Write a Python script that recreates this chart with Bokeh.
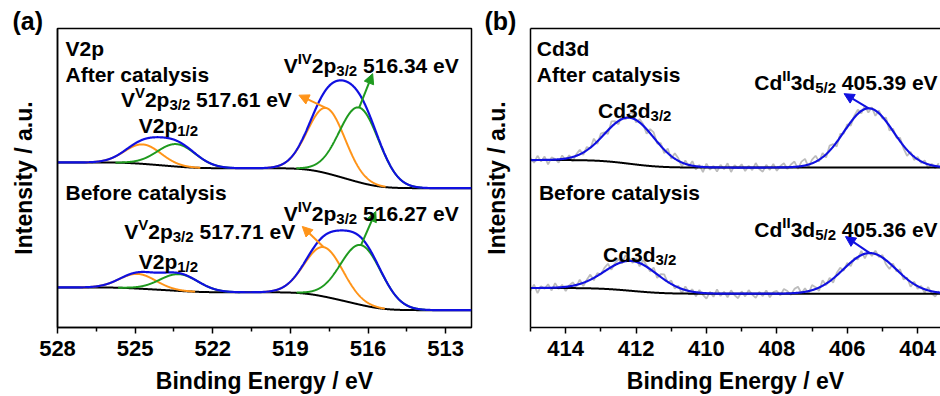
import numpy as np
from bokeh.plotting import figure
from bokeh.layouts import row
from bokeh.models import Range1d, FixedTicker, Label, Arrow, NormalHead, LinearAxis
from bokeh.embed import file_html
from bokeh.resources import INLINE

# ---------------- V2p fit parameters (binding energy in eV, height in a.u.) ----------------
# component order: V(V) 2p3/2, V(IV) 2p3/2, V(V) 2p1/2, V(IV) 2p1/2
v_after_center = [517.61, 516.34, 524.70, 523.40]
v_after_height = [21.8, 25.0, 6.5, 7.5]
v_after_fwhm = [1.7, 1.8, 1.65, 1.75]
v_after_bg = [46.6, 55.2]          # background level at low / high binding energy

v_before_center = [517.71, 516.27, 524.90, 523.30]
v_before_height = [16.5, 20.0, 4.9, 5.6]
v_before_fwhm = [1.75, 1.85, 1.65, 1.75]
v_before_bg = [5.8, 13.4]

v_ticks = [528, 525, 522, 519, 516, 513]
v_minor = [526.5, 523.5, 520.5, 517.5, 514.5]

# ---------------- Cd3d fit parameters ----------------
# component order: Cd 3d3/2, Cd(II) 3d5/2
cd_after_center = [412.18, 405.39]
cd_after_height = [15.4, 19.8]
cd_after_fwhm = [1.65, 1.65]
cd_after_bg = [53.5, 56.0]

cd_before_center = [412.13, 405.36]
cd_before_height = [10.0, 13.6]
cd_before_fwhm = [1.75, 1.75]
cd_before_bg = [11.3, 13.2]

cd_ticks = [414, 412, 410, 408, 406, 404]
cd_minor = [415, 413, 411, 409, 407, 405]

# raw-data deviations from the fitted envelope, 415 -> 403.4 eV
cd_after_noise = [
    0.7, -0.9, 1.4, -0.5, 1.1, -1.5, 0.8, 0.2, -1.1, 1.2,
    -0.6, 0.9, -1.4, 0.5, 1.5, -0.8, 1.1, -0.3, 2.0, -0.9,
    1.4, 0.6, -1.2, 1.8, 0.8, -1.1, 1.5, -0.5, 1.2, 2.1,
    -0.8, 1.1, 0.5, -1.5, 1.4, 1.7, -0.6, 0.9, -1.2, 1.5,
    -0.9, 1.8, 0.8, -1.4, 1.1, -0.5, 1.5, -1.1, 0.6, -1.7,
    1.2, -0.8, 0.5, -1.4, 0.9, -0.6, 1.4, -1.5, 0.8, -0.3,
    1.1, -1.2, 0.6, -0.9, 1.5, -0.5, -1.4, 0.9, -0.8, 1.2,
    -1.1, 0.5, 1.4, -0.6, 0.9, 1.8, -0.8, 1.5, 2.2, -0.9,
    1.2, 2.0, -0.6, 1.4, -1.1, 1.7, 0.8, -1.5, 1.1, -0.5,
    0.9, -1.2, 0.6, 1.4, -0.8, 1.1, -1.4, 0.5, -1.8, 0.9,
    -0.6, 1.2, -1.5, 0.8, -0.5, 1.1, -0.9, -2.0, 0.6, -1.1,
    0.8, -0.6, 0.9, -1.4, 0.5, -0.8, 1.1]
cd_before_noise = [
    -0.8, 1.1, -1.7, 0.6, -0.3, 1.2, -0.9, 1.5, -0.5, 0.8,
    -1.4, 0.3, 1.1, -0.6, 1.4, -1.1, 0.5, 1.7, -0.8, 0.9,
    -0.3, 1.2, 1.8, -0.9, 0.6, 1.4, -0.5, 2.0, 0.8, -0.6,
    1.2, -1.1, 1.5, 0.5, -0.8, 1.4, -1.2, 0.9, 1.7, -0.3,
    1.1, -0.9, 0.6, -1.5, 1.2, -0.5, 0.8, -1.4, 0.9, -0.6,
    -1.8, 0.5, -1.1, 1.4, -0.8, 0.6, -1.2, 1.1, -0.5, -1.5,
    0.8, -0.9, 1.2, -0.3, -1.4, 0.6, -0.8, 1.1, -1.2, 0.5,
    0.9, -0.6, 1.5, 0.8, -0.5, 1.4, 2.0, -0.3, 1.2, -0.9,
    1.7, 0.6, -1.1, 1.8, -0.5, 1.1, -1.4, 0.8, 1.5, -0.6,
    0.9, -1.2, 0.5, -0.8, 1.4, -1.5, 0.6, -0.9, 1.1, -0.5,
    0.8, -1.4, -2.0, 0.9, -0.6, 1.2, -1.1, 0.5, -1.7, 0.8,
    -0.9, 0.6, -1.2, 1.1, -0.8, -1.5, 0.5]

BLUE = "#1010e0"
ORANGE = "#ff9419"
GREEN = "#1f9a1f"
GRAY = "#bdbdbd"
FONT = "Liberation Sans"

# Arial/Liberation Sans Bold advance widths (1/1000 em) for placing text runs
ADV = {" ": 278, "(": 333, ")": 333, ".": 278, "/": 278, "A": 722, "C": 722,
       "E": 667, "I": 278, "V": 667, "a": 556, "c": 556, "d": 611, "e": 556,
       "f": 333, "g": 611, "i": 278, "l": 278, "n": 611, "p": 611, "r": 389,
       "s": 556, "t": 333, "u": 611, "y": 556, "B": 722}


def text_width(s, size):
    return sum(ADV.get(ch, 556) for ch in s) * size / 1000.0


def gauss(x, c, h, w):
    return h * np.exp(-4.0 * np.log(2.0) * (x - c) ** 2 / w ** 2)


def shirley(xs, signal, lo, hi):
    cum = np.cumsum(signal)
    return lo + (hi - lo) * cum / cum[-1]


def rich_label(p, x, y, runs, main=21, small=15):
    off = 0.0
    for txt, kind in runs:
        size = main if kind == "n" else small
        dy = {"n": 0, "sup": 7, "sub": -5}[kind]
        body = txt.lstrip(" ")
        off += text_width(txt[:len(txt) - len(body)], size)
        p.add_layout(Label(x=x, y=y, x_offset=off, y_offset=dy, text=body,
                           text_font=FONT, text_font_style="bold",
                           text_font_size=f"{size}px", text_color="black",
                           text_baseline="alphabetic", text_align="left"))
        off += text_width(body, size)


def style_panel(p, ticks, minor, tag, tag_offset):
    # panel letter sits in the title slot, pulled left of the frame
    p.title.text = tag
    p.title.align = "left"
    p.title.offset = tag_offset
    p.title.standoff = -12
    p.title.text_font = FONT
    p.title.text_font_style = "bold"
    p.title.text_font_size = "25px"
    p.title.text_color = "black"
    p.xaxis.ticker = FixedTicker(ticks=ticks, minor_ticks=minor)
    p.xaxis.major_label_text_font = FONT
    p.xaxis.major_label_text_font_style = "bold"
    p.xaxis.major_label_text_font_size = "22px"
    p.xaxis.major_label_text_color = "black"
    p.xaxis.major_label_standoff = 7
    p.xaxis.major_tick_out = 6
    p.xaxis.major_tick_in = 0
    p.xaxis.minor_tick_out = 4
    p.xaxis.minor_tick_in = 0
    p.xaxis.axis_label = "Binding Energy / eV"
    p.xaxis.axis_label_standoff = 9
    p.yaxis.ticker = FixedTicker(ticks=[])
    p.yaxis.axis_label = "Intensity / a.u."
    p.yaxis.axis_label_standoff = 21
    for ax in (p.xaxis, p.yaxis):
        ax.axis_label_text_font = FONT
        ax.axis_label_text_font_style = "bold"
        ax.axis_label_text_font_size = "23px"
        ax.axis_label_text_color = "black"
        ax.axis_line_color = "black"
        ax.axis_line_width = 1.5
        ax.major_tick_line_color = "black"
        ax.major_tick_line_width = 1.5
        ax.minor_tick_line_color = "black"
        ax.minor_tick_line_width = 1.5
    p.xgrid.visible = False
    p.ygrid.visible = False
    p.background_fill_color = "white"
    p.border_fill_color = "white"


def arrow(p, x0, y0, x1, y1, color):
    p.add_layout(Arrow(end=NormalHead(size=10, fill_color=color, line_color=color, line_width=1),
                       x_start=x0, y_start=y0, x_end=x1, y_end=y1,
                       line_color=color, line_width=2))


# ---------------- panel (a): V2p ----------------
pa = figure(width=480, height=396, x_range=Range1d(528, 512), y_range=Range1d(0, 100),
            output_backend="svg", toolbar_location=None,
            min_border_left=57, min_border_right=9, min_border_top=28, min_border_bottom=68)
style_panel(pa, v_ticks, v_minor, "(a)", -45)
pa.outline_line_color = "black"
pa.outline_line_width = 1.5
pa.outline_line_alpha = 1.0

xv = np.linspace(512, 528, 1601)
v_colors = [ORANGE, GREEN, ORANGE, GREEN]
v_tops = {}
for tag, cen, hgt, fw, bgl in [("after", v_after_center, v_after_height, v_after_fwhm, v_after_bg),
                               ("before", v_before_center, v_before_height, v_before_fwhm, v_before_bg)]:
    comps = [gauss(xv, c, h, w) for c, h, w in zip(cen, hgt, fw)]
    total = np.sum(comps, axis=0)
    bg = shirley(xv, total, bgl[0], bgl[1])
    pa.line(xv, bg, line_color="black", line_width=2)
    for comp, c, w, col in zip(comps, cen, fw, v_colors):
        m = np.abs(xv - c) < 1.35 * w
        pa.line(xv[m], (bg + comp)[m], line_color=col, line_width=2)
    pa.line(xv, bg + total, line_color=BLUE, line_width=2.2)
    v_tops[tag] = [float(np.interp(c, xv, bg + comp)) for c, comp in zip(cen, comps)]

# peak pointers
arrow(pa, v_after_center[0], v_tops["after"][0], 518.67, 77.7, ORANGE)
arrow(pa, v_after_center[1], v_tops["after"][1], 515.82, 84.9, GREEN)
arrow(pa, v_before_center[0], v_tops["before"][0], 518.54, 33.8, ORANGE)
arrow(pa, v_before_center[1], v_tops["before"][1], 515.70, 38.8, GREEN)

rich_label(pa, 527.69, 93.3, [("V2p", "n")])
rich_label(pa, 527.69, 84.7, [("After catalysis", "n")])
rich_label(pa, 525.55, 76.2, [("V", "n"), ("V", "sup"), ("2p", "n"), ("3/2", "sub"), (" 517.61 eV", "n")])
rich_label(pa, 524.86, 67.7, [("V2p", "n"), ("1/2", "sub")])
rich_label(pa, 519.26, 87.7, [("V", "n"), ("IV", "sup"), ("2p", "n"), ("3/2", "sub"), (" 516.34 eV", "n")])
rich_label(pa, 527.69, 45.3, [("Before catalysis", "n")])
rich_label(pa, 519.26, 38.2, [("V", "n"), ("IV", "sup"), ("2p", "n"), ("3/2", "sub"), (" 516.27 eV", "n")])
rich_label(pa, 525.42, 32.1, [("V", "n"), ("V", "sup"), ("2p", "n"), ("3/2", "sub"), (" 517.71 eV", "n")])
rich_label(pa, 524.86, 22.1, [("V2p", "n"), ("1/2", "sub")])

# ---------------- panel (b): Cd3d ----------------
pb = figure(width=460, height=396, x_range=Range1d(415, 403.35), y_range=Range1d(0, 100),
            output_backend="svg", toolbar_location=None,
            min_border_left=50, min_border_right=0, min_border_top=28, min_border_bottom=68)
style_panel(pb, cd_ticks, cd_minor, "(b)", -46)
pb.outline_line_color = None
top_axis = LinearAxis(ticker=FixedTicker(ticks=[]), axis_line_color="black", axis_line_width=1.5,
                      major_label_text_font_size="0px")
pb.add_layout(top_axis, "above")

xc = np.linspace(403.35, 415, 1201)
cd_tops = {}
for tag, cen, hgt, fw, bgl, noise in [
        ("after", cd_after_center, cd_after_height, cd_after_fwhm, cd_after_bg, cd_after_noise),
        ("before", cd_before_center, cd_before_height, cd_before_fwhm, cd_before_bg, cd_before_noise)]:
    comps = [gauss(xc, c, h, w) for c, h, w in zip(cen, hgt, fw)]
    total = np.sum(comps, axis=0)
    bg = shirley(xc, comps[0], bgl[0], bgl[1])
    fit = bg + total
    raw_x = np.linspace(415.0, 403.4, len(noise))
    raw_y = np.interp(raw_x, xc, fit) + np.array(noise)
    pb.line(raw_x, raw_y, line_color=GRAY, line_width=1.8)
    pb.line(xc, bg, line_color="black", line_width=2)
    pb.line(xc, fit, line_color=BLUE, line_width=2.2)
    cd_tops[tag] = [float(np.interp(c, xc, fit)) for c in cen]

arrow(pb, cd_after_center[1], cd_tops["after"][1], 406.09, 78.2, BLUE)
arrow(pb, cd_before_center[1], cd_tops["before"][1], 406.05, 30.4, BLUE)

rich_label(pb, 414.82, 93.2, [("Cd3d", "n")])
rich_label(pb, 414.82, 84.7, [("After catalysis", "n")])
rich_label(pb, 408.64, 82.1, [("Cd", "n"), ("II", "sup"), ("3d", "n"), ("5/2", "sub"), (" 405.39 eV", "n")])
rich_label(pb, 413.08, 72.7, [("Cd3d", "n"), ("3/2", "sub")])
rich_label(pb, 414.76, 45.1, [("Before catalysis", "n")])
rich_label(pb, 408.64, 32.7, [("Cd", "n"), ("II", "sup"), ("3d", "n"), ("5/2", "sub"), (" 405.36 eV", "n")])
rich_label(pb, 412.94, 24.3, [("Cd3d", "n"), ("3/2", "sub")])

layout = row(pa, pb)
open("out.html", "w").write(file_html(layout, INLINE))
